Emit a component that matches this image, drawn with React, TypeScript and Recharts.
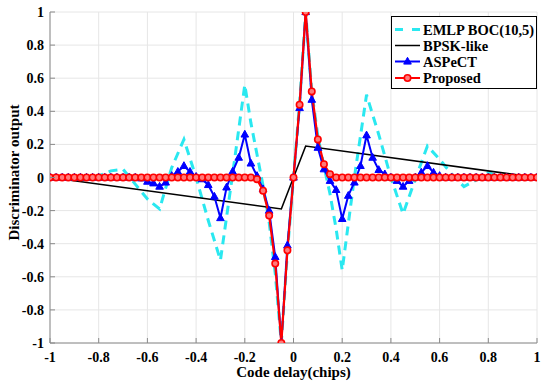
import { CartesianGrid, Legend, Line, LineChart, XAxis, YAxis } from "recharts"

// code delay grid (chips)
const delays = [
  -1, -0.975, -0.95, -0.925, -0.9, -0.875, -0.85, -0.825, -0.8, -0.775,
  -0.75, -0.725, -0.7, -0.675, -0.65, -0.625, -0.6, -0.575, -0.55, -0.525,
  -0.5, -0.475, -0.45, -0.425, -0.4, -0.375, -0.35, -0.325, -0.3, -0.275,
  -0.25, -0.225, -0.2, -0.175, -0.15, -0.125, -0.1, -0.075, -0.05, -0.025,
  0, 0.025, 0.05, 0.075, 0.1, 0.125, 0.15, 0.175, 0.2, 0.225,
  0.25, 0.275, 0.3, 0.325, 0.35, 0.375, 0.4, 0.425, 0.45, 0.475,
  0.5, 0.525, 0.55, 0.575, 0.6, 0.625, 0.65, 0.675, 0.7, 0.725,
  0.75, 0.775, 0.8, 0.825, 0.85, 0.875, 0.9, 0.925, 0.95, 0.975, 1,
]

const aspectVals = [
  0, 0, 0, 0, 0, 0, 0, 0, 0, 0, 0, 0, 0, 0, 0,
  -0.005, -0.025, -0.035, -0.055, -0.03,
  0.01, 0.035, 0.07, 0.035, 0.005,
  -0.01, -0.045, -0.115, -0.245, -0.06,
  0.036, 0.12, 0.26, 0.085, 0.01,
  -0.07, -0.2, -0.48, -1, -0.41,
  0, 0.42, 1, 0.47, 0.18,
  0.05, -0.02, -0.075, -0.25, -0.11,
  -0.03, 0.07, 0.255, 0.12, 0.046,
  0.02, 0, -0.02, -0.055, -0.02,
  0, 0.03, 0.07, 0.03, 0.01,
  0, 0, 0, 0, 0, 0, 0, 0, 0, 0, 0, 0, 0, 0, 0, 0,
]

const proposedVals = [
  0, 0, 0, 0, 0, 0, 0, 0, 0, 0, 0, 0, 0, 0, 0, 0, 0,
  0, 0, 0, 0, 0, 0, 0, 0, 0, 0, 0, 0, 0, 0, 0, 0, 0,
  -0.01, -0.08, -0.23, -0.52, -1, -0.44, 0, 0.44, 1, 0.52, 0.23, 0.08, 0.02,
  0, 0, 0, 0, 0, 0, 0, 0, 0, 0, 0, 0, 0, 0, 0, 0, 0,
  0, 0, 0, 0, 0, 0, 0, 0, 0, 0, 0, 0, 0, 0, 0, 0, 0,
]

const emlpDelays = [
  -1, -0.9, -0.85, -0.8, -0.75, -0.7, -0.65, -0.6, -0.55, -0.5, -0.45, -0.4,
  -0.35, -0.3, -0.25, -0.2, -0.175, -0.15, -0.125, -0.1, -0.075, -0.05, -0.025,
  0, 0.025, 0.05, 0.075, 0.1, 0.125, 0.15, 0.175, 0.2, 0.25, 0.3, 0.35, 0.4,
  0.45, 0.5, 0.55, 0.6, 0.65, 0.7, 0.75, 0.8, 0.85, 0.9, 1,
]
const emlpVals = [
  0, 0, -0.01, 0.01, 0.04, 0.05, -0.04, -0.13, -0.19, 0.06, 0.23, 0,
  -0.26, -0.5, 0.02, 0.56, 0.33, 0.14, -0.05, -0.27, -0.58, -1, -0.45,
  0, 0.45, 1, 0.52, 0.25, 0.07, -0.1, -0.31, -0.56, 0, 0.5, 0.26, 0,
  -0.22, -0.01, 0.19, 0.11, 0.02, -0.055, -0.015, 0.03, 0, 0, 0,
]

const bpskDelays = [-1, -0.05, 0.05, 1]
const bpskVals = [0, -0.19, 0.19, 0]

const ticks = [-1, -0.8, -0.6, -0.4, -0.2, 0, 0.2, 0.4, 0.6, 0.8, 1]

const legendItems = ["EMLP BOC(10,5)", "BPSK-like", "ASPeCT", "Proposed"]

const aspectData = delays.map((x, i) => ({ x, y: aspectVals[i] }))
const proposedData = delays.map((x, i) => ({ x, y: proposedVals[i] }))
const emlpData = emlpDelays.map((x, i) => ({ x, y: emlpVals[i] }))
const bpskData = bpskDelays.map((x, i) => ({ x, y: bpskVals[i] }))

const FONT = "'Liberation Serif', 'Times New Roman', serif"
const BOX = "#8a8a8a"
const CYAN = "#2ae8f0"
const BLUE = "#0000ff"
const RED = "#ff0000"

const Triangle = ({ cx, cy }: any) =>
  cx == null ? null : (
    <path
      d={`M${cx},${cy - 4.2} L${cx + 3.8},${cy + 2.6} L${cx - 3.8},${cy + 2.6} Z`}
      fill={BLUE}
      stroke={BLUE}
    />
  )

const Circle = ({ cx, cy }: any) =>
  cx == null ? null : (
    <circle cx={cx} cy={cy} r={3.2} fill="#ff7a7a" stroke={RED} strokeWidth={1.6} />
  )

const BottomTick = ({ x, y, payload }: any) => (
  <g>
    <line x1={x} y1={y} x2={x} y2={y - 5} stroke={BOX} />
    <text
      x={x}
      y={y + 19}
      textAnchor="middle"
      fontSize={14}
      fontWeight="bold"
      fontFamily={FONT}
      fill="#000"
    >
      {payload.value}
    </text>
  </g>
)

const TopTick = ({ x, y }: any) => (
  <line x1={x} y1={y} x2={x} y2={y + 5} stroke={BOX} />
)

const LeftTick = ({ x, y, payload }: any) => (
  <g>
    <line x1={x} y1={y} x2={x + 5} y2={y} stroke={BOX} />
    <text
      x={x - 6}
      y={y + 5}
      textAnchor="end"
      fontSize={14}
      fontWeight="bold"
      fontFamily={FONT}
      fill="#000"
    >
      {payload.value}
    </text>
  </g>
)

const RightTick = ({ x, y }: any) => (
  <line x1={x} y1={y} x2={x - 5} y2={y} stroke={BOX} />
)

function LegendBox() {
  const rowY = [13.5, 29.5, 45.5, 62]
  return (
    <svg width={146} height={73} style={{ display: "block" }}>
      <rect x={0.5} y={0.5} width={145} height={72} fill="#fff" stroke="#000" />
      {legendItems.map((name, i) => {
        const y = rowY[i]
        return (
          <g key={name}>
            {i === 0 && (
              <line x1={4} y1={y} x2={29} y2={y} stroke={CYAN} strokeWidth={3} strokeDasharray="8 9" />
            )}
            {i === 1 && <line x1={4} y1={y} x2={29} y2={y} stroke="#000" strokeWidth={1.5} />}
            {i === 2 && (
              <>
                <line x1={4} y1={y} x2={29} y2={y} stroke={BLUE} strokeWidth={2} />
                <Triangle cx={16.5} cy={y} />
              </>
            )}
            {i === 3 && (
              <>
                <line x1={4} y1={y} x2={29} y2={y} stroke={RED} strokeWidth={2} />
                <Circle cx={16.5} cy={y} />
              </>
            )}
            <text
              x={32}
              y={y + 5}
              fontSize={14.5}
              fontWeight="bold"
              fontFamily={FONT}
              fill="#000"
            >
              {name}
            </text>
          </g>
        )
      })}
    </svg>
  )
}

export default function App() {
  return (
    <div style={{ position: "absolute", left: 0, top: 0, width: 550, height: 388, background: "#fff" }}>
      <LineChart
        width={550}
        height={388}
        margin={{ top: 12, right: 13, bottom: 0, left: 0 }}
      >
        <CartesianGrid stroke="#e6e6e6" strokeWidth={1} />
        <XAxis
          dataKey="x"
          type="number"
          domain={[-1, 1]}
          ticks={ticks}
          height={45}
          tickSize={0}
          tickMargin={0}
          axisLine={{ stroke: BOX }}
          tickLine={false}
          tick={<BottomTick />}
          interval={0}
          allowDataOverflow
          label={{
            content: (p: any) => {
              const vb = p.viewBox
              return (
                <text
                  x={vb.x + vb.width / 2}
                  y={vb.y + 34}
                  textAnchor="middle"
                  fontSize={15}
                  fontWeight="bold"
                  fontFamily={FONT}
                  fill="#000"
                >
                  Code delay(chips)
                </text>
              )
            },
          }}
        />
        <XAxis
          xAxisId="top"
          orientation="top"
          type="number"
          domain={[-1, 1]}
          ticks={ticks}
          height={0}
          tickSize={0}
          tickMargin={0}
          axisLine={{ stroke: BOX }}
          tickLine={false}
          tick={<TopTick />}
          interval={0}
        />
        <YAxis
          type="number"
          domain={[-1, 1]}
          ticks={ticks}
          width={50}
          tickSize={0}
          tickMargin={0}
          axisLine={{ stroke: BOX }}
          tickLine={false}
          tick={<LeftTick />}
          interval={0}
          allowDataOverflow
          label={{
            content: (p: any) => {
              const vb = p.viewBox
              const cx = vb.x + 19
              const cy = vb.y + vb.height / 2 - 5
              return (
                <text
                  x={cx}
                  y={cy}
                  transform={`rotate(-90, ${cx}, ${cy})`}
                  textAnchor="middle"
                  fontSize={15}
                  fontWeight="bold"
                  fontFamily={FONT}
                  fill="#000"
                >
                  Discriminator output
                </text>
              )
            },
          }}
        />
        <YAxis
          yAxisId="right"
          orientation="right"
          type="number"
          domain={[-1, 1]}
          ticks={ticks}
          width={0}
          tickSize={0}
          tickMargin={0}
          axisLine={{ stroke: BOX }}
          tickLine={false}
          tick={<RightTick />}
          interval={0}
        />
        <Line
          data={emlpData}
          dataKey="y"
          type="linear"
          stroke={CYAN}
          strokeWidth={3}
          strokeDasharray="9 6"
          dot={false}
          isAnimationActive={false}
        />
        <Line
          data={bpskData}
          dataKey="y"
          type="linear"
          stroke="#000"
          strokeWidth={1.6}
          dot={false}
          isAnimationActive={false}
        />
        <Line
          data={aspectData}
          dataKey="y"
          type="linear"
          stroke={BLUE}
          strokeWidth={2}
          dot={<Triangle />}
          isAnimationActive={false}
        />
        <Line
          data={proposedData}
          dataKey="y"
          type="linear"
          stroke={RED}
          strokeWidth={2.2}
          dot={<Circle />}
          isAnimationActive={false}
        />
        <Legend
          verticalAlign="middle"
          align="center"
          layout="horizontal"
          content={() => <LegendBox />}
          wrapperStyle={{ left: 391, top: 16, width: 146, height: 73 }}
        />
      </LineChart>
    </div>
  )
}
